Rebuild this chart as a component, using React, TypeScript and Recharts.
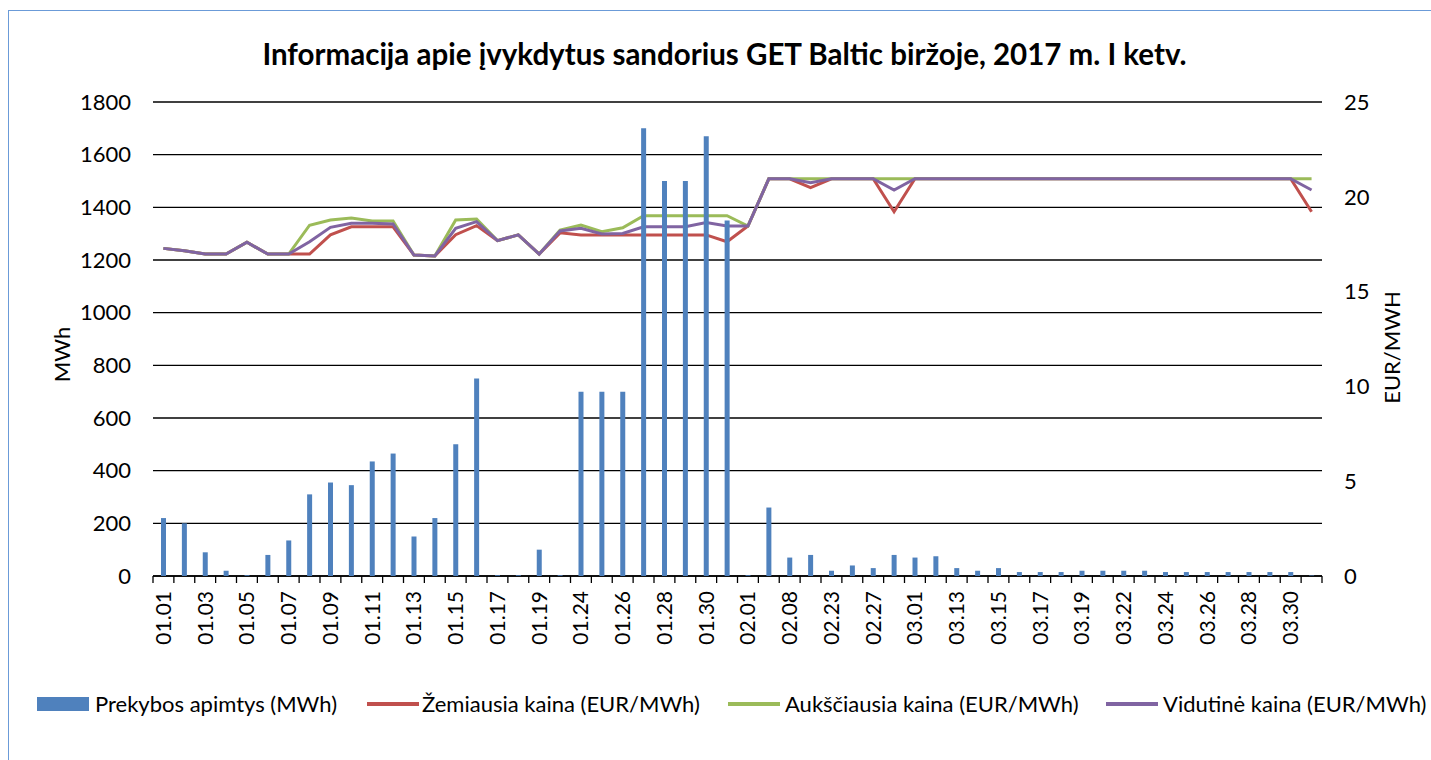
import { ComposedChart, Bar, Line, XAxis, YAxis, CartesianGrid } from 'recharts'

const dates = [
  '01.01', '01.02', '01.03', '01.04', '01.05', '01.06', '01.07', '01.08', '01.09', '01.10',
  '01.11', '01.12', '01.13', '01.14', '01.15', '01.16', '01.17', '01.18', '01.19', '01.20',
  '01.24', '01.25', '01.26', '01.27', '01.28', '01.29', '01.30', '01.31', '02.01', '02.03',
  '02.08', '02.15', '02.23', '02.24', '02.27', '02.28', '03.01', '03.08', '03.13', '03.14',
  '03.15', '03.16', '03.17', '03.18', '03.19', '03.21', '03.22', '03.23', '03.24', '03.25',
  '03.26', '03.27', '03.28', '03.29', '03.30', '03.31',
]

const volume = [
  220, 200, 90, 20, 3, 80, 135, 310, 355, 345,
  435, 465, 150, 220, 500, 750, 3, 3, 100, 3,
  700, 700, 700, 1700, 1500, 1500, 1670, 1350, 3, 260,
  70, 80, 20, 40, 30, 80, 70, 75, 30, 20,
  30, 15, 15, 15, 20, 20, 20, 20, 15, 15,
  15, 15, 15, 15, 15, 2,
]

const minPrice = [
  17.28, 17.16, 16.98, 16.98, 17.6, 16.98, 16.98, 16.98, 17.99, 18.42,
  18.42, 18.42, 16.93, 16.88, 18.0, 18.48, 17.69, 17.99, 16.98, 18.1,
  17.99, 17.99, 17.99, 17.99, 17.99, 17.99, 17.99, 17.63, 18.46, 20.95,
  20.95, 20.48, 20.95, 20.95, 20.95, 19.21, 20.95, 20.95, 20.95, 20.95,
  20.95, 20.95, 20.95, 20.95, 20.95, 20.95, 20.95, 20.95, 20.95, 20.95,
  20.95, 20.95, 20.95, 20.95, 20.95, 19.21,
]

const maxPrice = [
  17.28, 17.16, 16.98, 16.98, 17.6, 16.98, 16.98, 18.5, 18.78, 18.88,
  18.72, 18.72, 16.93, 16.88, 18.78, 18.83, 17.69, 17.99, 16.98, 18.25,
  18.51, 18.16, 18.37, 19.0, 19.0, 19.0, 19.0, 19.0, 18.46, 20.95,
  20.95, 20.95, 20.95, 20.95, 20.95, 20.95, 20.95, 20.95, 20.95, 20.95,
  20.95, 20.95, 20.95, 20.95, 20.95, 20.95, 20.95, 20.95, 20.95, 20.95,
  20.95, 20.95, 20.95, 20.95, 20.95, 20.95,
]

const avgPrice = [
  17.28, 17.16, 16.98, 16.98, 17.6, 16.98, 16.98, 17.63, 18.39, 18.6,
  18.6, 18.57, 16.93, 16.88, 18.34, 18.69, 17.69, 17.99, 16.98, 18.2,
  18.34, 18.04, 18.07, 18.42, 18.42, 18.42, 18.64, 18.46, 18.46, 20.95,
  20.95, 20.74, 20.95, 20.95, 20.95, 20.36, 20.95, 20.95, 20.95, 20.95,
  20.95, 20.95, 20.95, 20.95, 20.95, 20.95, 20.95, 20.95, 20.95, 20.95,
  20.95, 20.95, 20.95, 20.95, 20.95, 20.36,
]

const volumeTicks = [0, 200, 400, 600, 800, 1000, 1200, 1400, 1600, 1800]
const priceTicks = [0, 5, 10, 15, 20, 25]

const data = dates.map((d, i) => ({
  date: d,
  volume: volume[i],
  min: minPrice[i],
  max: maxPrice[i],
  avg: avgPrice[i],
}))

const FONT = 'Lato, "Open Sans", sans-serif'
const PLOT_LEFT = 153
const PLOT_RIGHT = 1322
const PLOT_TOP = 102
const PLOT_BOTTOM = 576
const STEP = (PLOT_RIGHT - PLOT_LEFT) / dates.length

function DateTick(props: any) {
  const { x, y, payload, index } = props
  const left = x - STEP / 2
  const last = index === dates.length - 1
  return (
    <g>
      <line x1={left} x2={left} y1={y} y2={y + 7} stroke="#000" strokeWidth={1.3} />
      {last && <line x1={x + STEP / 2} x2={x + STEP / 2} y1={y} y2={y + 7} stroke="#000" strokeWidth={1.3} />}
      {index % 2 === 0 && (
        <text
          x={x}
          y={y + 15}
          transform={`rotate(-90 ${x} ${y + 15})`}
          textAnchor="end"
          dy="0.36em"
          fontSize={21}
          fontFamily={FONT}
          fill="#000"
        >
          {payload.value}
        </text>
      )}
    </g>
  )
}

const legendItems = [
  { label: 'Prekybos apimtys (MWh)', color: '#4f81bd', box: true, x: 37, tx: 95 },
  { label: 'Žemiausia kaina (EUR/MWh)', color: '#c0504d', box: false, x: 367, tx: 422 },
  { label: 'Aukščiausia kaina (EUR/MWh)', color: '#9bbb59', box: false, x: 728, tx: 785 },
  { label: 'Vidutinė kaina (EUR/MWh)', color: '#8064a2', box: false, x: 1106, tx: 1163 },
]

export default function App() {
  return (
    <div style={{ position: 'absolute', left: 0, top: 0, width: 1431, height: 760, overflow: 'hidden', background: '#fff', fontFamily: FONT }}>
      <div
        style={{
          position: 'absolute',
          left: 8,
          top: 10,
          width: 1440,
          height: 780,
          borderLeft: '1.5px solid #6b9bd8',
          borderTop: '1.5px solid #6b9bd8',
        }}
      />
      <div
        style={{
          position: 'absolute',
          left: 0,
          width: 1449,
          top: 36,
          textAlign: 'center',
          fontSize: 29.5,
          fontWeight: 700,
          color: '#000',
        }}
      >
        Informacija apie įvykdytus sandorius GET Baltic biržoje, 2017 m. I ketv.
      </div>
      <div style={{ position: 'absolute', left: 0, top: 0 }}>
        <ComposedChart
          width={1431}
          height={760}
          data={data}
          barCategoryGap={0}
          margin={{ top: PLOT_TOP, left: PLOT_LEFT - 90, right: 1431 - PLOT_RIGHT - 90, bottom: 760 - PLOT_BOTTOM - 100 }}
        >
          <CartesianGrid vertical={false} stroke="#000" strokeWidth={1.3} yAxisId="vol" />
          <XAxis
            dataKey="date"
            interval={0}
            height={100}
            tickSize={0}
            tickMargin={0}
            tickLine={false}
            axisLine={{ stroke: '#000', strokeWidth: 1.3 }}
            tick={DateTick}
          />
          <YAxis
            yAxisId="vol"
            width={90}
            domain={[0, 1800]}
            ticks={volumeTicks}
            axisLine={false}
            tickLine={false}
            tickSize={0}
            tickMargin={22}
            tick={{ fill: '#000', fontSize: 22, fontFamily: FONT }}
          />
          <YAxis
            yAxisId="price"
            orientation="right"
            width={90}
            domain={[0, 25]}
            ticks={priceTicks}
            axisLine={false}
            tickLine={false}
            tickSize={0}
            tickMargin={22}
            tick={{ fill: '#000', fontSize: 22, fontFamily: FONT, textAnchor: 'start' }}
          />
          <Line yAxisId="price" dataKey="min" stroke="#c0504d" strokeWidth={3} dot={false} isAnimationActive={false} />
          <Line yAxisId="price" dataKey="max" stroke="#9bbb59" strokeWidth={3} dot={false} isAnimationActive={false} />
          <Line yAxisId="price" dataKey="avg" stroke="#8064a2" strokeWidth={3} dot={false} isAnimationActive={false} />
          <Bar yAxisId="vol" dataKey="volume" fill="#4f81bd" barSize={5} isAnimationActive={false} zIndex={500} />
        </ComposedChart>
      </div>
      <div
        style={{
          position: 'absolute',
          left: 42,
          top: 264,
          width: 40,
          height: 180,
          display: 'flex',
          alignItems: 'center',
          justifyContent: 'center',
        }}
      >
        <div style={{ transform: 'rotate(-90deg)', fontSize: 22, whiteSpace: 'nowrap' }}>MWh</div>
      </div>
      <div
        style={{
          position: 'absolute',
          left: 1371,
          top: 257,
          width: 40,
          height: 180,
          display: 'flex',
          alignItems: 'center',
          justifyContent: 'center',
        }}
      >
        <div style={{ transform: 'rotate(-90deg)', fontSize: 22, whiteSpace: 'nowrap' }}>EUR/MWH</div>
      </div>
      {legendItems.map((it) => (
        <div key={it.label}>
          <div
            style={{
              position: 'absolute',
              left: it.x,
              top: it.box ? 697 : 702,
              width: 52,
              height: it.box ? 14 : 4,
              background: it.color,
            }}
          />
          <div style={{ position: 'absolute', left: it.tx, top: 690, fontSize: 22, whiteSpace: 'nowrap', color: '#000' }}>
            {it.label}
          </div>
        </div>
      ))}
    </div>
  )
}
